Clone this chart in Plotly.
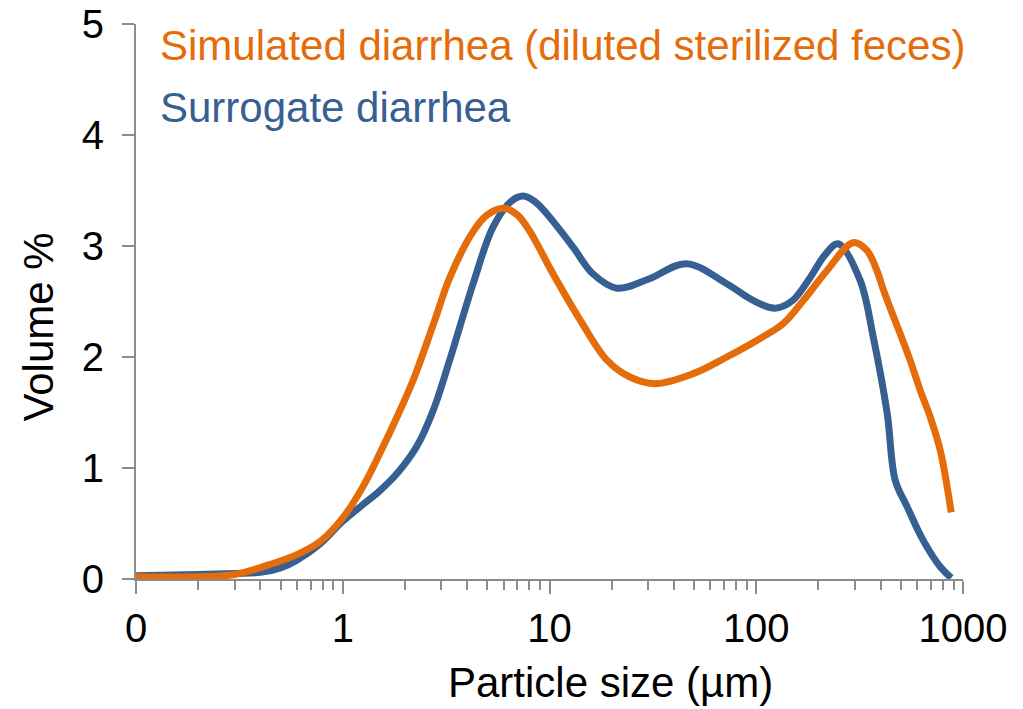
import plotly.graph_objects as go

# Particle size distribution (volume %) for two diarrhea simulants
simulated_size = [0.1, 0.2, 0.3, 0.41, 0.6, 0.78, 1.0, 1.25, 1.51, 1.83, 2.2, 2.75,
                  3.3, 4.27, 5.0, 6.0, 7.0, 8.05, 10.4, 14.1, 19.0, 24.5, 32.4, 49.5,
                  72, 105, 135, 169, 220, 294, 343, 383, 413, 462, 497, 555, 621,
                  694, 776, 877]
simulated_vol = [0.02, 0.02, 0.04, 0.11, 0.22, 0.34, 0.55, 0.83, 1.13, 1.46, 1.80, 2.30,
                 2.72, 3.13, 3.28, 3.34, 3.28, 3.13, 2.75, 2.33, 1.97, 1.82, 1.76, 1.85,
                 2.0, 2.17, 2.30, 2.51, 2.78, 3.03, 2.96, 2.78, 2.60, 2.36, 2.21, 1.97,
                 1.70, 1.46, 1.16, 0.60]

surrogate_size = [0.1, 0.2, 0.3, 0.4, 0.5, 0.6, 0.78, 1.0, 1.25, 1.5, 1.83, 2.29, 2.74,
                  3.3, 4.27, 5.33, 6.5, 7.45, 8.5, 9.7, 13.0, 16.2, 21.2, 30, 46, 72,
                  96.6, 123, 150, 180, 215, 249, 318, 368, 430, 470, 537, 641, 776, 877]
surrogate_vol = [0.03, 0.04, 0.05, 0.06, 0.10, 0.17, 0.32, 0.52, 0.67, 0.79, 0.95, 1.20,
                 1.52, 1.98, 2.66, 3.17, 3.40, 3.45, 3.40, 3.29, 2.99, 2.75, 2.62, 2.70,
                 2.84, 2.66, 2.51, 2.44, 2.51, 2.70, 2.92, 3.02, 2.69, 2.18, 1.49, 0.89,
                 0.65, 0.35, 0.11, 0.01]

series_names = ["Simulated diarrhea (diluted sterilized feces)", "Surrogate diarrhea"]
series_colors = ["#E46C0A", "#376092"]

x_tickvals = [0.1, 1, 10, 100, 1000]
x_ticktext = ["0", "1", "10", "100", "1000"]
x_minor = [m * 10 ** e for e in range(-1, 3) for m in range(2, 10)]

FONT = "Liberation Sans, Arial, sans-serif"
AXIS_GREY = "#8c8c8c"

fig = go.Figure()
fig.add_trace(go.Scatter(
    x=surrogate_size, y=surrogate_vol, mode="lines", name=series_names[1],
    line=dict(color=series_colors[1], width=7, shape="spline", smoothing=1.0),
))
fig.add_trace(go.Scatter(
    x=simulated_size, y=simulated_vol, mode="lines", name=series_names[0],
    line=dict(color=series_colors[0], width=7, shape="spline", smoothing=1.0),
))

# series labels in their own colours, stacked at the top-left of the plot
for i, (name, color) in enumerate(zip(series_names, series_colors)):
    fig.add_annotation(
        text=name, xref="paper", yref="paper", x=0.027, y=0.961 - i * 0.112,
        xanchor="left", yanchor="middle", showarrow=False,
        font=dict(family=FONT, size=42, color=color),
    )

# axis titles
fig.add_annotation(
    text="Particle size (µm)", xref="paper", yref="paper", x=0.574, y=-0.186,
    xanchor="center", yanchor="middle", showarrow=False,
    font=dict(family=FONT, size=42, color="black"),
)
fig.add_annotation(
    text="Volume %", xref="paper", yref="paper", x=-0.118, y=0.454, textangle=-90,
    xanchor="center", yanchor="middle", showarrow=False,
    font=dict(family=FONT, size=42, color="black"),
)

fig.update_layout(
    width=1023, height=709,
    margin=dict(l=136, r=60, t=24, b=130, autoexpand=False),
    paper_bgcolor="white", plot_bgcolor="white",
    showlegend=False,
    font=dict(family=FONT, color="black"),
    xaxis=dict(
        type="log", range=[-1, 3], automargin=False,
        tickvals=x_tickvals, ticktext=x_ticktext,
        ticks="outside", ticklen=13, tickwidth=2, tickcolor=AXIS_GREY,
        minor=dict(tickvals=x_minor, ticks="outside", ticklen=9, tickwidth=1.5,
                   tickcolor=AXIS_GREY, showgrid=False),
        showline=True, linecolor=AXIS_GREY, linewidth=2,
        showgrid=False, zeroline=False,
        tickfont=dict(family=FONT, size=40),
    ),
    yaxis=dict(
        range=[0, 5], dtick=1, automargin=False,
        ticks="outside", ticklen=12, tickwidth=2, tickcolor=AXIS_GREY,
        ticklabelstandoff=10,
        showline=True, linecolor=AXIS_GREY, linewidth=2,
        showgrid=False, zeroline=False,
        tickfont=dict(family=FONT, size=40),
    ),
)

fig.write_html("out.html")
